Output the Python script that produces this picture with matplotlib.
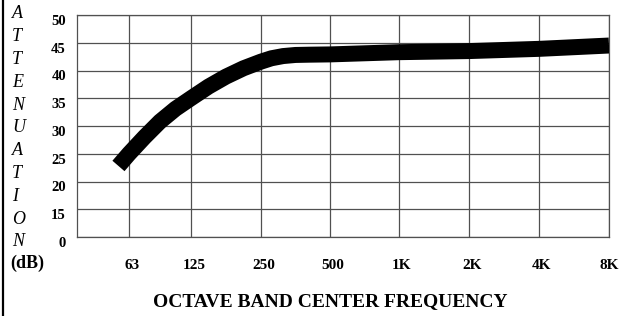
import numpy as np
import matplotlib
matplotlib.use("Agg")
from matplotlib import pyplot as plt
from matplotlib.lines import Line2D
from matplotlib.transforms import ScaledTranslation

# octave bands along the bottom
bands = ["63", "125", "250", "500", "1K", "2K", "4K", "8K"]
# y axis labels (broken scale: 0 then 15..50)
y_labels = ["0", "15", "20", "25", "30", "35", "40", "45", "50"]

# curve: position in octaves from 63 Hz, attenuation in dB
curve_oct = [-0.17, 0.0, 0.25, 0.5, 0.75, 1.0, 1.25, 1.5, 1.75, 2.0, 2.15,
             2.32, 2.5, 2.7, 3.0, 4.0, 5.0, 6.0, 7.0]
curve_db = [22.8, 25.0, 28.0, 30.8, 33.1, 35.0, 37.1, 38.9, 40.4, 41.6, 42.2,
            42.6, 42.8, 42.85, 42.9, 43.3, 43.5, 43.9, 44.5]

ylabel_letters = list("ATTENUATION")

serif = ["Liberation Serif", "DejaVu Serif"]

# the hand drawn grid is not evenly spaced: pixel column of each band line
band_px = np.array([129, 191, 261, 330, 399, 469, 539, 609], dtype=float)
band_idx = np.arange(len(band_px), dtype=float)


def x_fwd(x):
    x = np.asarray(x, dtype=float)
    out = np.interp(x, band_idx, band_px)
    lo = x < 0
    out = np.where(lo, band_px[0] + x * (band_px[1] - band_px[0]), out)
    return out


def x_inv(p):
    p = np.asarray(p, dtype=float)
    out = np.interp(p, band_px, band_idx)
    lo = p < band_px[0]
    out = np.where(lo, (p - band_px[0]) / (band_px[1] - band_px[0]), out)
    return out


def db_to_row(v):
    # 0 sits on the bottom line, 15 on the next, then 5 dB per row
    v = np.asarray(v, dtype=float)
    return np.where(v >= 15, 1 + (v - 15) / 5.0, v / 15.0)


fig = plt.figure(figsize=(6.19, 3.16), dpi=100)
W, H = 619, 316
ax = fig.add_axes([77 / W, (H - 237) / H, (609 - 77) / W, (237 - 15) / H])
ax.set_xscale("function", functions=(x_fwd, x_inv))

ax.plot(curve_oct, db_to_row(curve_db), color="black", lw=11.5,
        solid_capstyle="butt", solid_joinstyle="round", zorder=5)

ax.set_xlim(float(x_inv(77)), 7)
ax.set_ylim(0, len(y_labels) - 1)

ax.set_xticks(range(len(bands)))
ax.set_xticklabels(bands, fontfamily=serif, fontweight="bold", fontsize=11)
ax.xaxis.set_minor_locator(plt.NullLocator())
ax.set_yticks(range(len(y_labels)))
ax.set_yticklabels(y_labels, fontfamily=serif, fontweight="bold", fontsize=10.5)
ax.tick_params(axis="both", length=0)
ax.tick_params(axis="x", pad=16)
ax.tick_params(axis="y", pad=8)
for lab in ax.get_yticklabels():
    lab.set_transform(lab.get_transform() + ScaledTranslation(0, -3.5 / 72, fig.dpi_scale_trans))
for lab in ax.get_xticklabels()[:-1]:
    lab.set_transform(lab.get_transform() + ScaledTranslation(2 / 72, 0, fig.dpi_scale_trans))

ax.grid(True, color="#505050", lw=0.9)
ax.set_axisbelow(True)
for s in ax.spines.values():
    s.set_color("#505050")
    s.set_linewidth(0.9)

# axis title, centred a little left of the axes centre as in the original
fig.text(330 / W, 1 - 302 / H, "OCTAVE BAND CENTER FREQUENCY", fontfamily=serif,
         fontweight="bold", fontsize=14, ha="center", va="center")

# vertical stacked label on the left
for i, ch in enumerate(ylabel_letters):
    fig.text(12 / W, 1 - (14 + i * 22.8) / H, ch, fontfamily=serif,
             fontstyle="italic", fontsize=13, ha="left", va="center")
fig.text(10 / W, 1 - 263 / H, "(dB)", fontfamily=serif, fontweight="bold",
         fontsize=13, ha="left", va="center")

# frame line down the left edge
fig.add_artist(Line2D([2.7 / W, 2.7 / W], [0, 1], color="black", lw=1.6))

fig.savefig("out.png", dpi=100)
